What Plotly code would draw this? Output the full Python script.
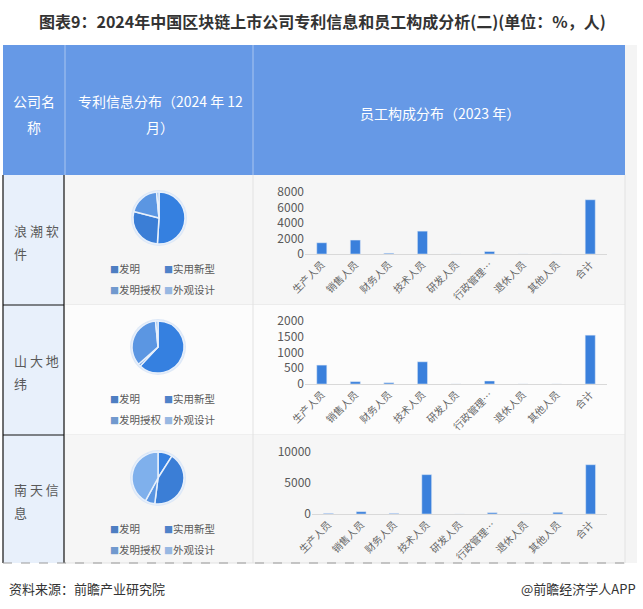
import plotly.graph_objects as go

W, H = 643, 609
FONT = "Noto Sans CJK SC"

company_line1 = ["浪 潮 软", "山 大 地", "南 天 信"]
company_line2 = ["件", "纬", "息"]
patent_labels = ["发明", "实用新型", "发明授权", "外观设计"]
patent_values = [
    [51, 28, 19.5, 1.5],
    [62, 1.5, 35, 1.5],
    [9, 43, 6, 42],
]
staff_categories = ["生产人员", "销售人员", "财务人员", "技术人员", "研发人员",
                    "行政管理…", "退休人员", "其他人员", "合计"]
staff_values = [
    [1450, 1800, 100, 2950, 0, 320, 0, 0, 7000],
    [600, 75, 40, 705, 0, 95, 0, 0, 1550],
    [100, 375, 100, 6350, 0, 215, 0, 270, 7950],
]
y_ranges = [[0, 8000], [0, 2000], [0, 10000]]
y_dticks = [2000, 500, 5000]

pie_colors = ["#3580e0", "#3b7ed6", "#5b96e2", "#7fb0ec"]
legend_colors = ["#4d7ec2", "#4f82c9", "#7199ce", "#98b8e2"]

def px(x):
    return x / W

def py(y):
    return 1 - y / H

fig = go.Figure()
shapes = []
annotations = []

def rect(x0, y0, x1, y1, fill, line_color=None, width=0, dash=None):
    shapes.append(dict(type="rect", xref="paper", yref="paper",
                       x0=px(x0), x1=px(x1), y0=py(y1), y1=py(y0),
                       fillcolor=fill, layer="below",
                       line=dict(color=line_color or fill, width=width, dash=dash)))

def line(x0, y0, x1, y1, color, width=1, dash=None):
    shapes.append(dict(type="line", xref="paper", yref="paper",
                       x0=px(x0), x1=px(x1), y0=py(y0), y1=py(y1),
                       layer="below", line=dict(color=color, width=width, dash=dash)))

# background table
rect(3, 45, 637, 563, "#f4f4f4")
# header
rect(3, 45, 625, 175, "#6699e6")
line(65, 45, 65, 175, "#a9c5f0", 1)
line(253, 45, 253, 175, "#a9c5f0", 1)

row_tops = [175, 305, 435]
row_bots = [305, 435, 563]
row_fills = ["#f6f6f6", "#fcfcfc", "#f6f6f6"]
for i in range(3):
    rect(65, row_tops[i], 625, row_bots[i], row_fills[i])
    rect(3, row_tops[i], 64, row_bots[i], "#e8f0fb")
    line(65, row_bots[i], 625, row_bots[i], "#e2e2e2", 1)
line(253, 175, 253, 563, "#e2e2e2", 1)
line(625, 175, 625, 563, "#e2e2e2", 1)
# first column black borders
line(3, 175, 3, 563, "#111111", 1.2)
line(64, 175, 64, 563, "#111111", 1.2)
line(3, 305, 64, 305, "#111111", 1.2)
line(3, 435, 64, 435, "#111111", 1.2)
# bottom dashed
line(3, 563, 625, 563, "#9a9a9a", 1, "dash")

def text(x, y, s, size=13, color="#595959", xanchor="center", bold=False, align="center"):
    annotations.append(dict(x=px(x), y=py(y), xref="paper", yref="paper",
                            text=f"<b>{s}</b>" if bold else s, showarrow=False,
                            xanchor=xanchor, yanchor="middle", align=align,
                            font=dict(family=FONT, size=size, color=color)))

# title
text(322, 21, "图表9：2024年中国区块链上市公司专利信息和员工构成分析(二)(单位：%，人)",
     size=16, color="#333333", bold=True)
# header texts
text(34, 101, "公司名", 14, "white")
text(34, 127, "称", 14, "white")
text(160, 101, "专利信息分布（2024 年 12", 14, "white")
text(160, 127, "月）", 14, "white")
text(440, 113, "员工构成分布（2023 年）", 14, "white")

# footer
text(7, 588, "资料来源：前瞻产业研究院", 13, "#333333", xanchor="left")
text(638, 588, "@前瞻经济学人APP", 13, "#333333", xanchor="right")

pie_centers = [(159, 218), (158, 347), (158, 478)]
R = 26
leg_y = [(268, 289), (398, 419), (528, 549)]
bar_x = [(305, 607), (305, 607), (312, 607)]
bar_y = [(192, 254), (321, 384), (452, 514)]

for i in range(3):
    # company name
    mid = (row_tops[i] + row_bots[i]) / 2
    text(12, mid - 10, company_line1[i], 13, "#595959", xanchor="left")
    text(12, mid + 13, company_line2[i], 13, "#595959", xanchor="left")
    # pie halo
    cx, cy = pie_centers[i]
    shapes.append(dict(type="circle", xref="paper", yref="paper",
                       x0=px(cx - R - 2), x1=px(cx + R + 2),
                       y0=py(cy + R + 2), y1=py(cy - R - 2),
                       fillcolor="#dde8f7", line=dict(width=0), layer="below"))
    fig.add_trace(go.Pie(
        labels=patent_labels, values=patent_values[i], sort=False,
        direction="clockwise", rotation=0, textinfo="none", hoverinfo="label+value",
        marker=dict(colors=pie_colors, line=dict(color="#e8f0fb", width=1.5)),
        domain=dict(x=[px(cx - R), px(cx + R)], y=[py(cy + R), py(cy - R)]),
        showlegend=False))
    # legend
    ly1, ly2 = leg_y[i]
    legs = [(108, ly1), (162, ly1), (108, ly2), (162, ly2)]
    for (lx, lyy), lab, col in zip(legs, patent_labels, legend_colors):
        text(lx, lyy, f"<span style='color:{col};font-size:9px'>■</span>{lab}", 10.5,
             "#595959", xanchor="left")

    # bars
    ax = "" if i == 0 else str(i + 1)
    fig.add_trace(go.Bar(x=staff_categories, y=staff_values[i], marker_color="#3a80dc",
                         xaxis="x" + ax, yaxis="y" + ax, showlegend=False, width=0.3))
    x0, x1 = bar_x[i]
    y0, y1 = bar_y[i]
    fig.layout["xaxis" + ax] = dict(
        domain=[px(x0), px(x1)], anchor="y" + ax, showline=True, linecolor="#d9d9d9",
        linewidth=1, tickangle=-45, ticks="", showgrid=False, fixedrange=True,
        automargin=False, tickfont=dict(family=FONT, size=10, color="#666666"))
    fig.layout["yaxis" + ax] = dict(
        domain=[py(y1), py(y0)], anchor="x" + ax, range=y_ranges[i], dtick=y_dticks[i],
        showgrid=False, zeroline=False, showline=False, ticks="", tickformat="d",
        automargin=False, fixedrange=True,
        tickfont=dict(family=FONT, size=12, color="#595959"))

fig.update_layout(width=W, height=H, margin=dict(l=0, r=0, t=0, b=0, autoexpand=False),
                  paper_bgcolor="white", plot_bgcolor="rgba(0,0,0,0)",
                  shapes=shapes, annotations=annotations, bargap=0.7,
                  font=dict(family=FONT))
fig.write_html("out.html", config={"displayModeBar": False},
               post_script="document.body.style.margin='0';document.body.style.overflow='hidden';")
